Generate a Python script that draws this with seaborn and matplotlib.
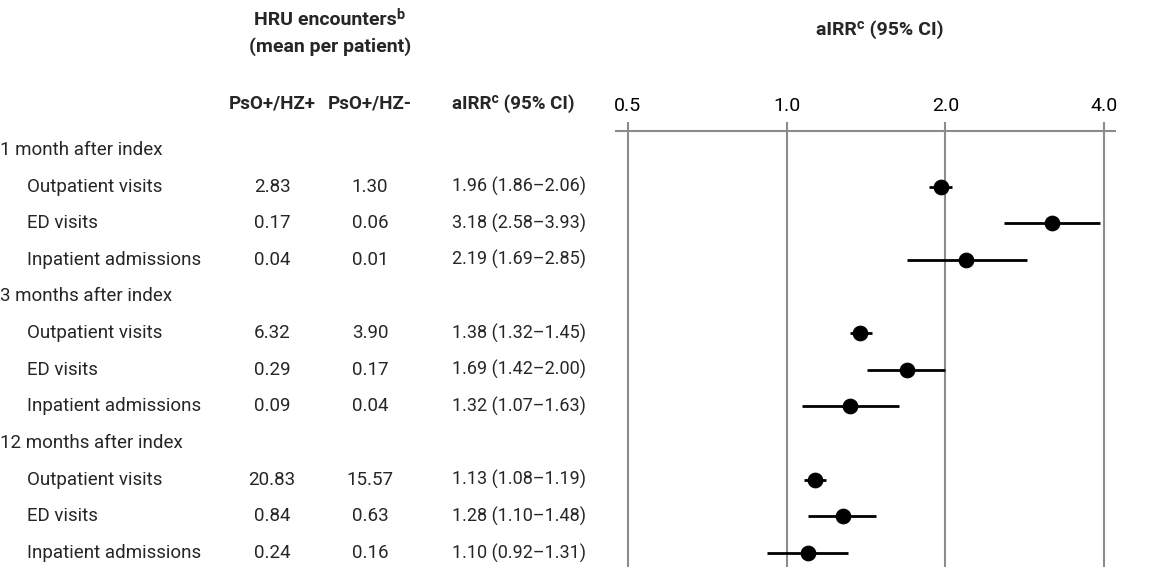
import numpy as np
import pandas as pd
import matplotlib
matplotlib.use('Agg')
import matplotlib.pyplot as plt
import matplotlib.transforms as mtransforms
from matplotlib import font_manager
import seaborn as sns

groups = ['1 month after index', '3 months after index', '12 months after index']
measures = ['Outpatient visits', 'ED visits', 'Inpatient admissions']
hz_pos = [2.83, 0.17, 0.04, 6.32, 0.29, 0.09, 20.83, 0.84, 0.24]
hz_neg = [1.30, 0.06, 0.01, 3.90, 0.17, 0.04, 15.57, 0.63, 0.16]
airr = [1.96, 3.18, 2.19, 1.38, 1.69, 1.32, 1.13, 1.28, 1.10]
ci_lo = [1.86, 2.58, 1.69, 1.32, 1.42, 1.07, 1.08, 1.10, 0.92]
ci_hi = [2.06, 3.93, 2.85, 1.45, 2.00, 1.63, 1.19, 1.48, 1.31]
x_ticks = [0.5, 1.0, 2.0, 4.0]

sns.set_theme(style='white')

installed = {f.name for f in font_manager.fontManager.ttflist}
narrow = 'Liberation Sans Narrow' if 'Liberation Sans Narrow' in installed else 'Roboto'
plt.rcParams['font.family'] = [narrow, 'DejaVu Sans']

# row positions: group header rows followed by three measure rows each
rows = []
r = 0
for g in groups:
    rows.append((r, g, True))
    r += 1
    for m in measures:
        rows.append((r, m, False))
        r += 1
data_rows = [row for row, _, hdr in rows if not hdr]

df = pd.DataFrame({
    'row': data_rows,
    'airr': airr,
    'lo': ci_lo,
    'hi': ci_hi,
    'hz_pos': hz_pos,
    'hz_neg': hz_neg,
})

fig = plt.figure(figsize=(11.53, 5.67), dpi=100)
ax = fig.add_axes([615 / 1153, 0, 501 / 1153, 1 - 122 / 567])

ax.set_xscale('log')
ax.set_xlim(0.473, 4.21)
ax.set_ylim(11.38, -0.76)

for t in x_ticks:
    ax.axvline(t, color='#8c8c8c', lw=1.5, zorder=1)
ax.axhline(-0.52, color='#8c8c8c', lw=1.5, zorder=1)

ax.hlines(df['row'], df['lo'], df['hi'], color='black', lw=2, zorder=2)
sns.scatterplot(data=df, x='airr', y='row', ax=ax, color='black', s=110,
                edgecolor='black', zorder=3, legend=False)

ax.set_xticks(x_ticks)
ax.set_xticklabels([f'{t:.1f}' for t in x_ticks])
ax.xaxis.set_minor_locator(matplotlib.ticker.NullLocator())
ax.xaxis.tick_top()
ax.tick_params(axis='x', length=0, labelsize=14, pad=5, colors='black')
ax.set_yticks([])
ax.set_xlabel('')
ax.set_ylabel('')
for s in ax.spines.values():
    s.set_visible(False)

# table text on the left, using figure x and data y
trans = mtransforms.blended_transform_factory(fig.transFigure, ax.transData)
fs = 13.5
for row, label, hdr in rows:
    x0 = 0 if hdr else 27
    ax.text(x0 / 1153, row, label, transform=trans, fontsize=fs,
            ha='left', va='center', clip_on=False)

for _, d in df.iterrows():
    ax.text(272 / 1153, d['row'], f"{d['hz_pos']:.2f}", transform=trans,
            fontsize=fs, ha='center', va='center')
    ax.text(370 / 1153, d['row'], f"{d['hz_neg']:.2f}", transform=trans,
            fontsize=fs, ha='center', va='center')
    ax.text(452 / 1153, d['row'],
            f"{d['airr']:.2f} ({d['lo']:.2f}\u2013{d['hi']:.2f})",
            transform=trans, fontsize=13, ha='left', va='center')

# headers
hdr_y = 1 - 104 / 567
fig.text(272 / 1153, hdr_y, 'PsO+/HZ+', fontsize=fs, fontweight='bold',
         ha='center', va='center')
fig.text(370 / 1153, hdr_y, 'PsO+/HZ-', fontsize=fs, fontweight='bold',
         ha='center', va='center')
fig.text(452 / 1153, hdr_y, 'aIRR\u1d9c (95% CI)', fontsize=fs,
         fontweight='bold', ha='left', va='center')
fig.text(330 / 1153, 1 - 20 / 567, 'HRU encounters\u1d47', fontsize=14,
         fontweight='bold', ha='center', va='center')
fig.text(330 / 1153, 1 - 47 / 567, '(mean per patient)', fontsize=14,
         fontweight='bold', ha='center', va='center')
fig.text(880 / 1153, 1 - 30 / 567, 'aIRR\u1d9c (95% CI)', fontsize=14,
         fontweight='bold', ha='center', va='center')

fig.savefig('out.png', dpi=100, facecolor='white')
